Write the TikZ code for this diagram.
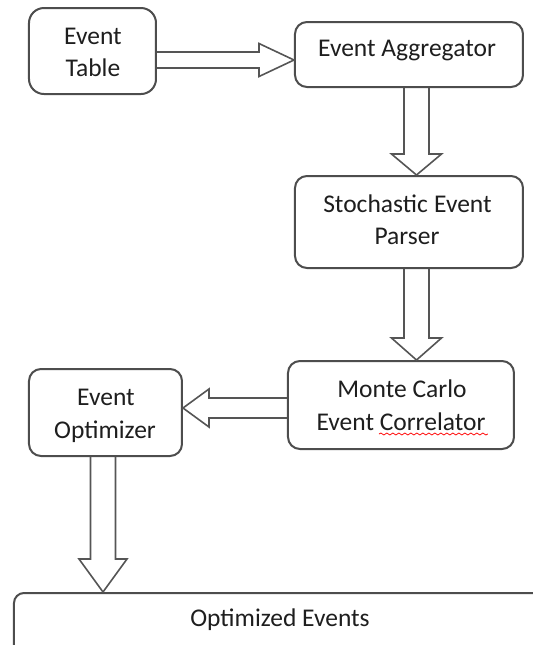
\documentclass[tikz,border=0pt]{standalone}
\usepackage{fontspec}
\setmainfont{Carlito}
\usetikzlibrary{calc,decorations.pathmorphing}
\definecolor{boxgray}{HTML}{4D4D4D}
\definecolor{arrgray}{HTML}{555555}
\definecolor{txt}{HTML}{1E1E1E}
\begin{document}
\begin{tikzpicture}[x=0.5pt,y=-0.5pt,
  font=\fontsize{12.75}{16.5}\selectfont,
  box/.style={draw=boxgray, line width=1pt, rounded corners=6pt, inner sep=0pt, fill=white},
  lbl/.style={anchor=base, inner sep=0pt, text=txt},
  blk/.style={draw=arrgray, line width=0.8pt, line join=miter}]
\useasboundingbox (0,0) rectangle (533,645);
\clip (0,0) rectangle (533,645);

% boxes
\node[box, rounded corners=7.5pt, minimum width=63.5pt, minimum height=43pt] (et) at (92.5,51) {};
\node[box, minimum width=114pt, minimum height=32.5pt] (ea) at (409,54.5) {};
\node[box, minimum width=114pt, minimum height=46pt] (st) at (409,222) {};
\node[box, minimum width=113pt, minimum height=44pt] (mc) at (401,405) {};
\node[box, minimum width=76.5pt, minimum height=43.5pt] (op) at (105.5,412.5) {};
\node[box, rounded corners=5pt, minimum width=273pt, minimum height=43.5pt] (oe) at (287,636.5) {};

% texts
\node[lbl] (et1) at (93,44) {Event};
\node[lbl] (et2) at (93,76) {Table};
\node[lbl] (ea1) at (407,56) {Event Aggregator};
\node[lbl] (st1) at (407.5,212) {Stochastic\hspace{0.25em}Event};
\node[lbl] (st2) at (407,244) {Parser};
\node[lbl] (mc1) at (402,397) {Monte Carlo};
\node[lbl] (mc2) at (401,430) {Event Correlator};
\node[lbl] (op1) at (106,405) {Event};
\node[lbl] (op2) at (105,438) {Optimizer};
\node[lbl] (oe1) at (280,626) {Optimized Events};

% spell-check underline
\draw[red, line width=0.4pt, decorate, decoration={snake, amplitude=0.5pt, segment length=3pt}]
  ($(mc2.base)+(-22,4)$) -- ($(mc2.base)+(87,4)$);

% arrow 1: Event Table -> Event Aggregator
\coordinate (a1s) at ($(et.east)+(0,9)$);
\coordinate (a1e) at (ea.west |- a1s);
\draw[blk] ($(a1s)+(0,-8)$) -- ($(a1e)+(-35,-8)$) -- ($(a1e)+(-35,-16.5)$) -- (a1e)
  -- ($(a1e)+(-35,16.5)$) -- ($(a1e)+(-35,8)$) -- ($(a1s)+(0,8)$);

% arrow 2: Event Aggregator -> Stochastic Event Parser
\coordinate (a2s) at ($(ea.south)+(7.5,0)$);
\coordinate (a2e) at (a2s |- st.north);
\draw[blk] ($(a2s)+(-12.5,0)$) -- ($(a2e)+(-12.5,-21)$) -- ($(a2e)+(-25,-21)$) -- (a2e)
  -- ($(a2e)+(25,-21)$) -- ($(a2e)+(12.5,-21)$) -- ($(a2s)+(12.5,0)$);

% arrow 3: Stochastic Event Parser -> Monte Carlo
\coordinate (a3s) at ($(st.south)+(7.5,0)$);
\coordinate (a3e) at (a3s |- mc.north);
\draw[blk] ($(a3s)+(-12.5,0)$) -- ($(a3e)+(-12.5,-22)$) -- ($(a3e)+(-25,-22)$) -- (a3e)
  -- ($(a3e)+(25,-22)$) -- ($(a3e)+(12.5,-22)$) -- ($(a3s)+(12.5,0)$);

% arrow 4: Monte Carlo -> Event Optimizer
\coordinate (a4s) at ($(mc.west)+(0,3)$);
\coordinate (a4e) at (op.east |- a4s);
\draw[blk] ($(a4s)+(0,-10)$) -- ($(a4e)+(26,-10)$) -- ($(a4e)+(26,-19)$) -- (a4e)
  -- ($(a4e)+(26,19)$) -- ($(a4e)+(26,10)$) -- ($(a4s)+(0,10)$);

% arrow 5: Event Optimizer -> Optimized Events
\coordinate (a5s) at ($(op.south)+(-2.5,0)$);
\coordinate (a5e) at (a5s |- oe.north);
\draw[blk] ($(a5s)+(-12.5,0)$) -- ($(a5e)+(-12.5,-33)$) -- ($(a5e)+(-24,-33)$) -- (a5e)
  -- ($(a5e)+(24,-33)$) -- ($(a5e)+(12.5,-33)$) -- ($(a5s)+(12.5,0)$);
\end{tikzpicture}
\end{document}
